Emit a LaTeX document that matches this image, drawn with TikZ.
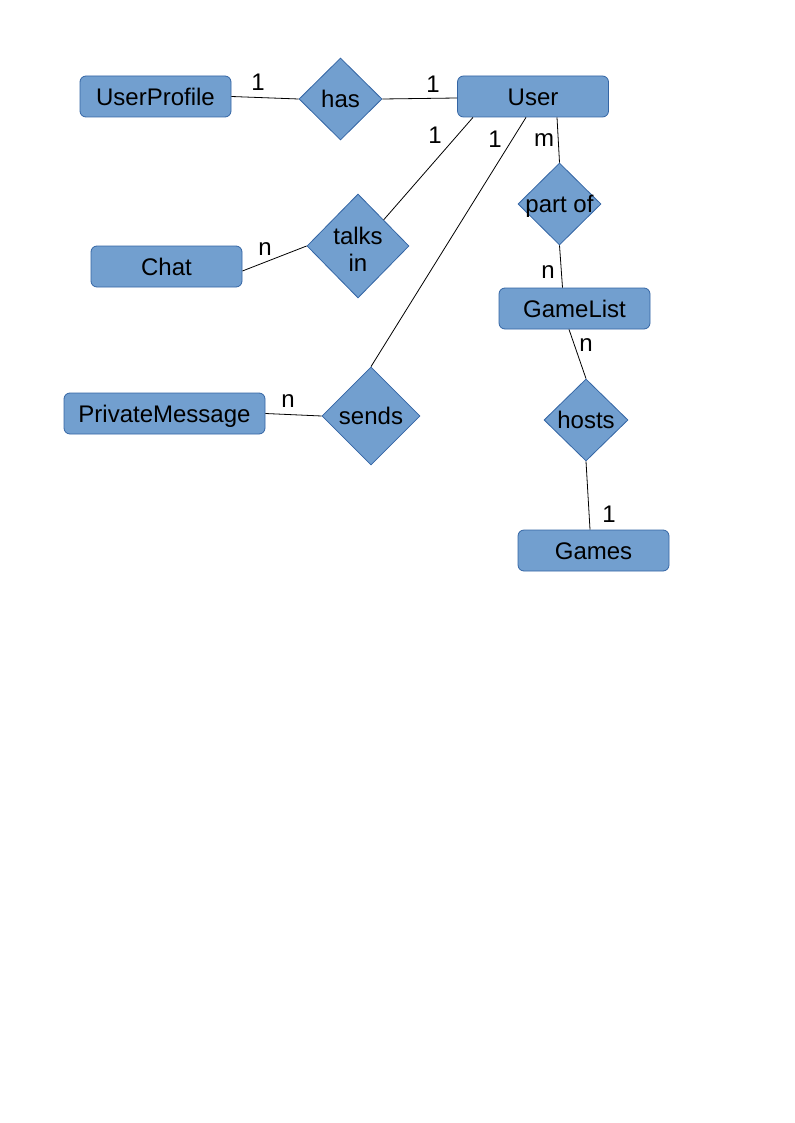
\documentclass[tikz,border=0pt]{standalone}
\usepackage{fontspec}
\setmainfont{Liberation Sans}
\usetikzlibrary{calc}
\usetikzlibrary{shapes.geometric}

\definecolor{erfill}{HTML}{729FCF}
\definecolor{erline}{HTML}{3465A4}

\begin{document}
\begin{tikzpicture}[x=0.75pt, y=-0.75pt,
        font=\fontsize{18}{20.25}\selectfont,
        entity/.style={rectangle, rounded corners=4.5pt, draw=erline, fill=erfill, line width=0.6pt, minimum width=113.25pt, minimum height=30.75pt, inner sep=0pt, text height=16.9pt, text depth=4pt},
        relation/.style={diamond, draw=erline, fill=erfill, line width=0.6pt, inner sep=0pt, minimum width=62.25pt, minimum height=61.5pt},
        every label/.style={text height=16.9pt, text depth=4pt},
        link/.style={line width=0.6pt}]
            \useasboundingbox (0,0) rectangle (794,1123);
            %Entities
            \node[entity]   (userprofile)  at (155.5,96.5)  {UserProfile};
            \node[entity]   (user)         at (533,96.5)    {User};
            \node[entity]   (chat)         at (166.5,266.5) {Chat};
            \node[entity]   (gamelist)     at (574.5,308.5) {GameList};
            \node[entity, minimum width=150.75pt] (privatemessage) at (164.5,413.5) {PrivateMessage};
            \node[entity]   (games)        at (593.5,550.5) {Games};
            %Relations
            \node[relation, label=center:has] (has) at (340.5,99) {};
            \node[relation, minimum width=76.5pt, minimum height=78pt, label={[align=center, text height=, text depth=, yshift=-2.5pt]center:talks\\in}] (talksin) at (358,246) {};
            \node[relation, label=center:part of] (partof) at (559.5,204) {};
            \node[relation, minimum width=73.5pt, minimum height=73.5pt, label=center:sends] (sends) at (371,416) {};
            \node[relation, minimum width=63pt, label=center:hosts] (hosts) at (586,420) {};
            %Links
            \draw[link] (userprofile.east) -- (has.west);
            \draw[link] (has.east) -- ($(user.west)+(0,1.5)$);
            \draw[link] ($(user.south)+(-60,0)$) -- (talksin.north east);
            \draw[link] ($(user.south)+(-7,0)$) -- (sends.north);
            \draw[link] ($(user.south)+(24,0)$) -- (partof.north);
            \draw[link] (partof.south) -- ($(gamelist.north)+(-12,0)$);
            \draw[link] ($(gamelist.south)+(-5.5,0)$) -- (hosts.north);
            \draw[link] (hosts.south) -- ($(games.north)+(-3.5,0)$);
            \draw[link] ($(chat.east)+(0,4.5)$) -- (talksin.west);
            \draw[link] (privatemessage.east) -- (sends.west);
            %Cardinalities
            \node (c1) at (258,82)  {1};
            \node (c2) at (433,84)  {1};
            \node (c3) at (435,135) {1};
            \node (c4) at (495,139) {1};
            \node (c5) at (544,140) {m};
            \node (c6) at (548,272) {n};
            \node (c7) at (586,345) {n};
            \node (c8) at (609,514) {1};
            \node (c9) at (265,249) {n};
            \node (c10) at (288,401) {n};
        \end{tikzpicture}
\end{document}
